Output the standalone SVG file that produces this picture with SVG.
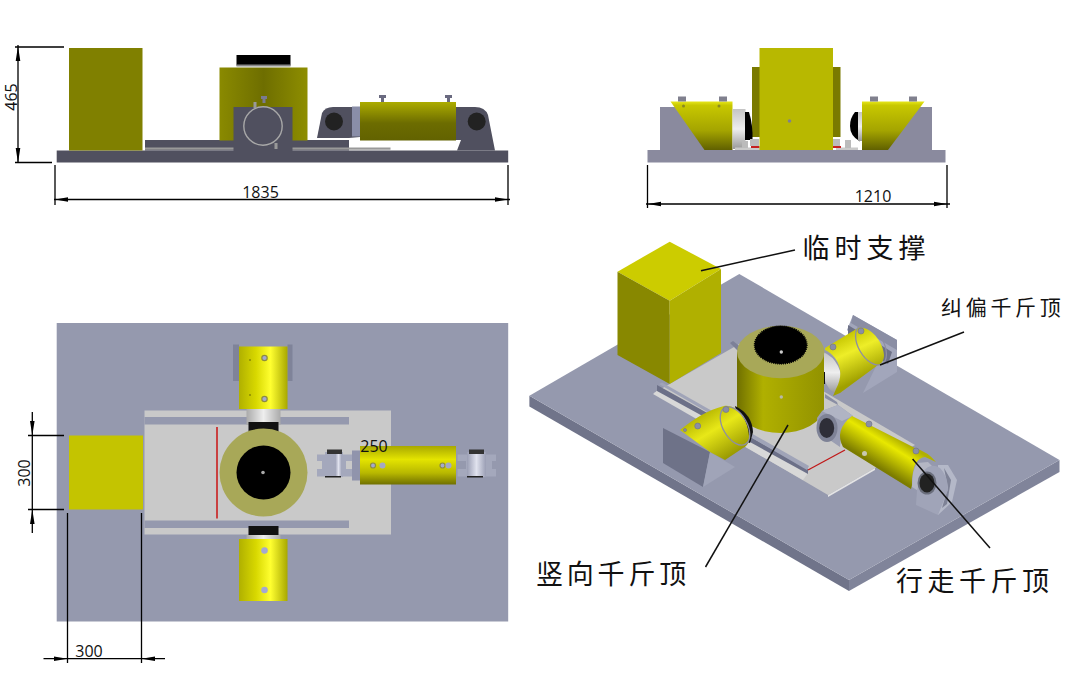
<svg xmlns="http://www.w3.org/2000/svg" width="1065" height="674" viewBox="0 0 1065 674">
<style>
.dim{stroke:#000;stroke-width:1.3;fill:none}
.head{fill:#000}
.lead{stroke:#111;stroke-width:1.5;fill:none}
.num{font-family:"Open Sans","Liberation Sans",sans-serif;font-size:16px;fill:#111}
.cjk{font-family:"Noto Sans CJK SC",sans-serif;fill:#111}
.big{font-size:27px}
.sm{font-size:21px;letter-spacing:3.7px}
.bolt{fill:#a4a8d0;stroke:#8c8c40;stroke-width:1.2}
.ring{fill:none;stroke:#8e8ea2;stroke-width:1.3}
.nut{fill:#8a8ea4;stroke:#6e7288;stroke-width:.6}
</style>
<defs>
<linearGradient id="cylS" x1="0" x2="1" y1="0" y2="0"><stop offset="0" stop-color="#8a8a00"/><stop offset=".5" stop-color="#6e6e00"/><stop offset="1" stop-color="#8e8e00"/></linearGradient>
<linearGradient id="jackS" x1="0" x2="0" y1="0" y2="1"><stop offset="0" stop-color="#acac00"/><stop offset=".55" stop-color="#6c6c00"/><stop offset="1" stop-color="#626200"/></linearGradient>
<linearGradient id="jackF" x1="0" x2="0" y1="0" y2="1"><stop offset="0" stop-color="#e6e61a"/><stop offset=".08" stop-color="#c8c800"/><stop offset=".6" stop-color="#a4a400"/><stop offset="1" stop-color="#606000"/></linearGradient>
<linearGradient id="jackT" x1="0" x2="1" y1="0" y2="0"><stop offset="0" stop-color="#b0b000"/><stop offset=".35" stop-color="#d8d800"/><stop offset=".65" stop-color="#ffff30"/><stop offset="1" stop-color="#a8a800"/></linearGradient>
<linearGradient id="jackH" x1="0" x2="0" y1="0" y2="1"><stop offset="0" stop-color="#a8a800"/><stop offset=".35" stop-color="#e4e400"/><stop offset=".7" stop-color="#b8b800"/><stop offset="1" stop-color="#707000"/></linearGradient>
<linearGradient id="chrome" x1="0" x2="1" y1="0" y2="0"><stop offset="0" stop-color="#aaa"/><stop offset=".5" stop-color="#eee"/><stop offset="1" stop-color="#aaa"/></linearGradient>
<linearGradient id="chromeV" x1="0" x2="0" y1="0" y2="1"><stop offset="0" stop-color="#c4c4c4"/><stop offset=".5" stop-color="#eee"/><stop offset="1" stop-color="#999"/></linearGradient>
<linearGradient id="pin" x1="0" x2="1" y1="0" y2="0"><stop offset="0" stop-color="#9a9eb4"/><stop offset=".5" stop-color="#e0e2ee"/><stop offset="1" stop-color="#9a9eb4"/></linearGradient>
<linearGradient id="isoCyl" x1="737" x2="824" y1="0" y2="0" gradientUnits="userSpaceOnUse"><stop offset="0" stop-color="#707000"/><stop offset=".3" stop-color="#b0b000"/><stop offset="1" stop-color="#929200"/></linearGradient>
<linearGradient id="isoW" x1="895" y1="437" x2="877" y2="466" gradientUnits="userSpaceOnUse"><stop offset="0" stop-color="#b0b000"/><stop offset=".3" stop-color="#e8e800"/><stop offset=".65" stop-color="#b4b400"/><stop offset="1" stop-color="#7c7c00"/></linearGradient>
<linearGradient id="isoL" x1="702" y1="412" x2="730" y2="458" gradientUnits="userSpaceOnUse"><stop offset="0" stop-color="#b4b400"/><stop offset=".4" stop-color="#e8e818"/><stop offset="1" stop-color="#969600"/></linearGradient>
<linearGradient id="isoU" x1="842" y1="335" x2="862" y2="378" gradientUnits="userSpaceOnUse"><stop offset="0" stop-color="#c4c400"/><stop offset=".4" stop-color="#eeee28"/><stop offset="1" stop-color="#a0a000"/></linearGradient>
</defs>

<g id="side-view">
<rect x="56.700" y="150.500" width="451.500" height="12" fill="#50505f"/>
<rect x="69" y="48" width="73.500" height="102.500" fill="#808000"/>
<rect x="145" y="140" width="204" height="10.500" fill="#50505f"/>
<rect x="145" y="147.500" width="245.500" height="2.200" fill="#999"/>
<rect x="219.500" y="67.500" width="88" height="73" fill="url(#cylS)"/>
<rect x="236.500" y="55" width="54" height="10.500" fill="#000"/>
<rect x="236.500" y="64.500" width="54" height="2" fill="#888"/>
<rect x="233.500" y="107" width="59" height="44" fill="#50505f"/>
<circle cx="263" cy="126" r="19.200" fill="none" stroke="#a8a8a8" stroke-width="1.400"/>
<path d="M261,96H267V99H265.500V103H262.500V99H261Z" fill="#7a7a90"/>
<rect x="253.500" y="102" width="3" height="6" fill="#999"/>
<rect x="274.500" y="143" width="3" height="6" fill="#999"/>
<path d="M317,138L322,113Q325,107 333,107H360V137L349,138Z" fill="#50505f"/>
<circle cx="334" cy="121.500" r="9" fill="#222"/>
<rect x="352" y="106.500" width="9" height="30" fill="#8a8ea8"/>
<path d="M456,107H475Q485,107 488,115L495,150.500H457L461,140H456Z" fill="#50505f"/>
<circle cx="476.700" cy="121.500" r="9" fill="#222"/>
<rect x="360" y="102" width="96" height="38.500" fill="url(#jackS)"/>
<path d="M379,95H386V98H384V102H381V98H379Z M445,95H452V98H450V102H447V98H445Z" fill="#6a6a80"/>
</g>

<g id="front-view">
<rect x="647.500" y="150" width="298" height="12.500" fill="#8a8a9e"/>
<path d="M660,107H680L715,150H660Z M932,107H912L877,150H932Z" fill="#8a8a9e"/>
<rect x="752" y="67" width="88.500" height="70" fill="#7a7a00"/>
<path d="M670.500,101.500H732.500V150H704.500Z" fill="url(#jackF)"/>
<path d="M862,101.500H924.500L888,150H862Z" fill="url(#jackF)"/>
<path d="M678,96.500H686V101.500H678Z M719,96.500H727V101.500H719Z M870,96.500H878V101.500H870Z M909,96.500H917V101.500H909Z" fill="#80808e"/>
<circle cx="683.500" cy="106" r="1.500" fill="#8a8a20"/><circle cx="719" cy="106" r="1.500" fill="#8a8a20"/>
<rect x="732.500" y="109" width="13" height="40" fill="url(#chromeV)"/>
<path d="M745,112H749Q753,125 752.500,140H745Z" fill="#000"/>
<path d="M860,112H855Q850,118 850,126Q850,136 860,141.500Z" fill="#000"/>
<rect x="858" y="112" width="4" height="29" fill="url(#chromeV)"/>
<path d="M735,147.500H760V150H735Z M836,147.500H858V150H836Z" fill="#c9c9c9"/>
<path d="M750,139H759V146H750Z M833,139H840V146H833Z M845,140H851V148H845Z M742,141H748V148H742Z" fill="#bbb"/>
<rect x="751" y="146" width="8.500" height="2" fill="#c62020"/>
<rect x="833" y="146" width="8" height="2" fill="#c62020"/>
<rect x="759.500" y="48" width="73.500" height="102" fill="#b8b800"/>
<circle cx="789.500" cy="121" r="1.800" fill="#808090"/>
</g>

<g id="top-view">
<rect x="56.700" y="323" width="451.500" height="298.500" fill="#9599ae"/>
<rect x="144.500" y="410.500" width="246.500" height="124" fill="#c9c9c9"/>
<rect x="144.500" y="417" width="204.500" height="7.500" fill="#9599ae"/>
<rect x="144.500" y="520.500" width="204.500" height="7.500" fill="#9599ae"/>
<rect x="69" y="435.500" width="74" height="74" fill="#c4c400"/>
<rect x="216" y="427" width="2" height="91.500" fill="#c94040"/>
<rect x="233" y="344.500" width="6" height="36.500" fill="#7f8399"/>
<rect x="287.500" y="344.500" width="5" height="36.500" fill="#7f8399"/>
<rect x="239" y="346.500" width="48.500" height="62.500" fill="url(#jackT)"/>
<rect x="246.500" y="409" width="34" height="16" fill="url(#chrome)"/>
<rect x="248.500" y="422" width="30" height="10" fill="#111"/>
<rect x="248.500" y="526" width="30" height="10" fill="#111"/>
<rect x="246.500" y="535" width="34" height="4" fill="url(#chrome)"/>
<rect x="239" y="539" width="48.500" height="62" fill="url(#jackT)"/>
<circle cx="263.500" cy="472.500" r="44" fill="#a8a858"/>
<circle cx="263.500" cy="472.500" r="27" fill="#000"/>
<circle cx="263" cy="472.500" r="1.800" fill="#aaa"/>
<circle cx="264.500" cy="358" r="2.700" class="bolt"/><circle cx="264.500" cy="399" r="2.700" class="bolt"/><circle cx="264.500" cy="550.500" r="2.700" class="bolt" style="stroke:#a4a8d0"/><circle cx="264.500" cy="590" r="2.700" class="bolt" style="stroke:#a4a8d0"/>
<circle cx="250" cy="360" r="1" fill="#8a8a00"/><circle cx="250" cy="395" r="1" fill="#8a8a00"/>
<path d="M317,454.500H352V461H346V469H352V476.500H317V469H322V461H317Z" fill="#a4a8bc"/>
<rect x="325" y="452" width="18" height="25" fill="#a4a8bc"/>
<rect x="335" y="453" width="7" height="23" fill="url(#pin)"/>
<rect x="327" y="449.500" width="15" height="4.500" fill="#333"/>
<rect x="325" y="476" width="16" height="1.500" fill="#222"/>
<rect x="352" y="450.500" width="8" height="30" fill="#9094ac"/>
<rect x="360" y="446" width="96" height="38.500" fill="url(#jackH)"/>
<circle cx="373" cy="465.500" r="2.500" class="bolt"/><circle cx="382.500" cy="465.500" r="3" fill="#a4a8c4"/>
<circle cx="442.500" cy="465.500" r="2.500" class="bolt"/><circle cx="448.500" cy="465.500" r="3" fill="#a4a8c4"/>
<path d="M457.500,454.500H496V461H492V469H496V476.500H457.500V469H466V461H457.500Z" fill="#a4a8bc"/>
<rect x="467" y="452" width="19" height="25" fill="url(#pin)"/>
<rect x="469" y="449.500" width="15" height="4.500" fill="#333"/>
<rect x="467" y="476" width="16" height="1.500" fill="#222"/>
</g>

<g id="iso-view">
<path d="M529.400,395.700L849,580V591L529.400,406.500Z" fill="#70748a"/>
<path d="M849,580L1059.500,460V472L849,591Z" fill="#80849a"/>
<path d="M739.300,274L1059.500,460L849,580L529.400,395.700Z" fill="#9599ae"/>
<path d="M654,393L828,495L915,445L741,343Z" fill="#c9c9c9"/>
<path d="M828,495L875,468V470L828,497Z" fill="#e4e4e4"/>
<path d="M653,394L658,390L808,473L803,480Z" fill="#d8d8d8"/>
<path d="M657,385L808,469V474L657,391Z" fill="#6c7088"/>
<path d="M659,384L662,382.500L809,466L807,470Z" fill="#a0a4b8"/>
<path d="M730,343L733,341L742,348L738,351Z" fill="#7c8098"/>
<path d="M825,394L837,402L838,405L825,398Z" fill="#8a8ea4"/>
<path d="M808,470L845,450" stroke="#c01818" stroke-width="1.300" fill="none"/>

<g id="brace">
<path d="M617.500,271.700L669.700,241.700L721,269L669.700,300.700Z" fill="#cccc00"/>
<path d="M617.500,271.700L669.700,300.700V384L617.500,355Z" fill="#888800"/>
<path d="M669.700,300.700L721,269V353L669.700,384Z" fill="#b0b000"/>
</g>

<g id="stand-upper">
<path d="M853,315L897,340V372L863,393L878,362L847,330Z" fill="#a2a6bb"/>
<path d="M853,315L897,340V350L890,346L851,323Z" fill="#8a8ea4"/>
<path d="M848,325L892,352L888,364L848,340Z" fill="#6e7288"/>
</g>
<g id="jack-upper">
<path d="M823,352Q843,360 843,392L834,393Q823,385 823,370Z" fill="url(#chromeV)"/>
<path d="M822,372H825V384H822Z" fill="#111"/>
<path d="M825,348L858,328C872,325 884,345 884,355C884,361 881,364 878,365L840,393L833,396L836,389Q845,372 835,358Q830,352 825,350Z" fill="url(#isoU)"/>
<ellipse cx="871" cy="345" rx="12.500" ry="22" transform="rotate(-30 871 345)" class="ring"/>
<circle cx="833" cy="347" r="3" class="nut"/><circle cx="861" cy="331" r="3" class="nut"/>
</g>

<g id="cylinder">
<path d="M737,352V409A43.700,26.500 0 0 0 824,409V352Z" fill="url(#isoCyl)"/>
<ellipse cx="780.700" cy="352" rx="43.700" ry="26.300" fill="#a8a858"/>
<ellipse cx="780.700" cy="345" rx="26.200" ry="18.900" fill="#000" stroke="#000" stroke-width="1.500" stroke-dasharray="1 1"/>
<circle cx="781.300" cy="352" r="1.700" fill="#ccc"/>
<circle cx="781.300" cy="397" r="1.700" fill="#b8b8a8"/>
</g>

<g id="stand-lower">
<path d="M663,428L710,452L703,487L663,463Z" fill="#6e7288"/>
<path d="M710,452L735,467L703,487Z" fill="#a0a4b8"/>
</g>
<g id="jack-lower">
<path d="M735,406Q752,414 753,432L750,443L742,440Z" fill="#111"/>
<path d="M680,430C695,418 708,410 724,406C738,404 748,420 749,436C750,442 747,446 743,448L725,460L710,452Z" fill="url(#isoL)"/>
<ellipse cx="735" cy="426" rx="12" ry="21" transform="rotate(-30 735 426)" class="ring"/>
<circle cx="697.700" cy="426" r="3" class="nut"/><circle cx="726" cy="409.500" r="3" class="nut"/><circle cx="685" cy="430" r="1.500" class="nut"/>
</g>

<g id="pedestal-near">
<path d="M817,418L822,411L838,405L853,416L842,428L840,447L818,432Z" fill="#9a9eb2"/>
<path d="M822,411L838,405L853,416L842,421Z" fill="#b0b4c4"/>
<ellipse cx="827" cy="428" rx="10.500" ry="14" fill="#7e8296"/>
<ellipse cx="826.700" cy="428" rx="7.500" ry="10" fill="#2e2e38"/>
</g>
<g id="jack-walking">
<path d="M852,416L915,448Q928,452 936,462L925,457Q912,458 912,485L911,489L843,447Q834,430 852,416Z" fill="url(#isoW)"/>
<path d="M917,463L928,462L936,470L920,492L912,487Q912,470 917,463Z" fill="#b4b6c4"/>
<circle cx="869" cy="424" r="3" class="nut"/>
<circle cx="916" cy="451" r="3" class="nut"/>
<circle cx="864.500" cy="453.500" r="2.500" fill="#c8c8b0"/>
</g>
<g id="pedestal-far">
<path d="M938,465H948L957,480L952,502L938,515Z" fill="#b4b8c8"/>
<path d="M944,468L951,480L947,504L942,508L948,488Z" fill="#7e8296"/>
<path d="M916,505L917,490L923,472Q930,462 940,468Q948,476 948,490L938,515Z" fill="#a0a4b8"/>
<ellipse cx="927" cy="483" rx="9.500" ry="11.500" fill="#6a6e7c"/>
<ellipse cx="927" cy="483" rx="7.500" ry="9.500" fill="#222"/>
</g>
</g>

<g id="connectors">
<path class="dim" d="M15,47H64M15,162.500H52M18,45V163"/>
<path class="head" d="M15.700,61L18,46L20.300,61ZM15.700,148L18,163L20.300,148Z"/>
<path class="dim" d="M55,165V205M508,165V205M54,199.500H510"/>
<path class="head" d="M68,197.200L55,199.500L68,201.800ZM495,197.200L508,199.500L495,201.800Z"/>
<path class="dim" d="M647.500,165V208M947,165V208M646,204H950"/>
<path class="head" d="M661,201.700L648,204L661,206.300ZM934,201.700L947,204L934,206.300Z"/>
<path class="dim" d="M28,435.500H64M28,509.500H64M32.300,412V533"/>
<path class="head" d="M30,421L32.300,435.500L34.600,421ZM30,524L32.300,509.500L34.600,524Z"/>
<path class="dim" d="M67.500,513V663M141.500,513V663M43.500,658.700H165"/>
<path class="head" d="M54,656.400L67.500,658.700L54,661ZM155,656.400L141.500,658.700L155,661Z"/>
<path class="lead" d="M701,270.700L795,250"/>
<path class="lead" d="M880,365L964,332"/>
<path class="lead" d="M788,425L705.500,567"/>
<path class="lead" d="M912.600,459L990,548"/>
</g>

<g id="labels">
<text class="num" transform="translate(16.500,97) rotate(-90)" text-anchor="middle">465</text>
<text class="num" x="260.500" y="197.500" text-anchor="middle">1835</text>
<text class="num" x="873" y="202" text-anchor="middle">1210</text>
<text class="num" transform="translate(30,473) rotate(-90)" text-anchor="middle">300</text>
<text class="num" x="89" y="656.500" text-anchor="middle">300</text>
<text class="num" x="374" y="452" text-anchor="middle">250</text>
<text class="cjk big" x="802.500" y="258" letter-spacing="5">临时支撑</text>
<text class="cjk sm" x="941" y="315">纠偏千斤顶</text>
<text class="cjk big" x="536" y="584" letter-spacing="3.800">竖向千斤顶</text>
<text class="cjk big" x="896" y="591" letter-spacing="4.500">行走千斤顶</text>
</g>
</svg>
